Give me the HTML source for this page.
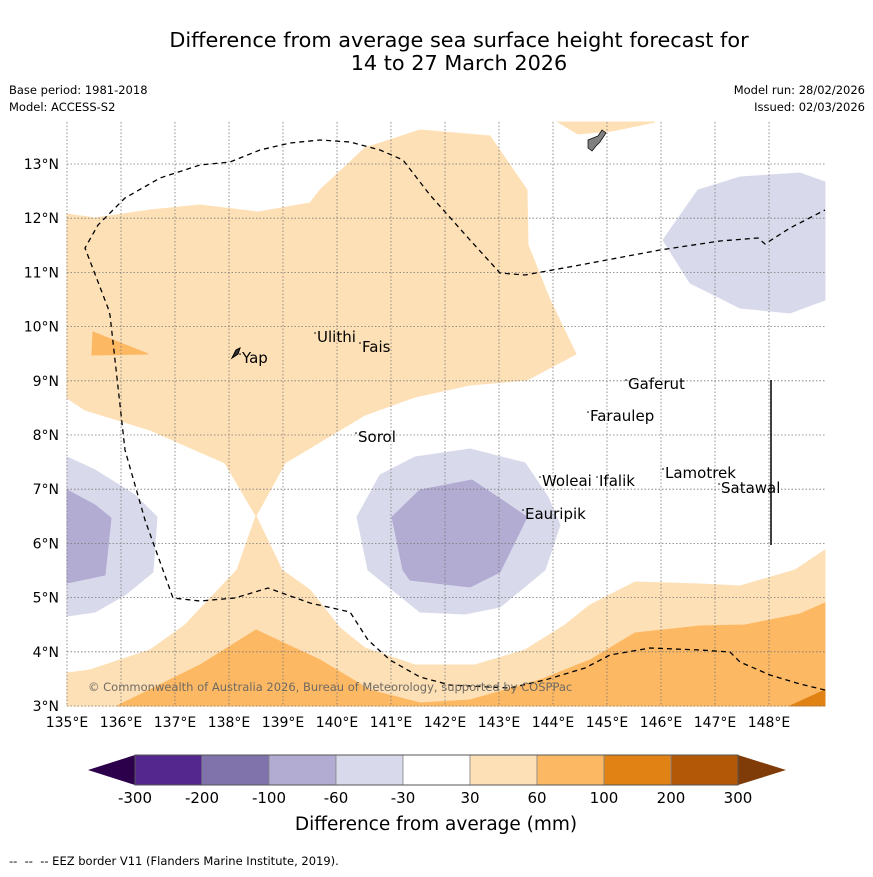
<!DOCTYPE html>
<html><head><meta charset="utf-8"><style>
body{margin:0;background:#fff;font-family:"DejaVu Sans","Liberation Sans",sans-serif;}
svg text{font-family:"DejaVu Sans","Liberation Sans",sans-serif;}
</style></head><body>
<svg id="c" width="873" height="873" viewBox="0 0 873 873" xmlns="http://www.w3.org/2000/svg">
<text x="459" y="47" font-size="20.8" text-anchor="middle">Difference from average sea surface height forecast for</text>
<text x="459" y="70" font-size="20.8" text-anchor="middle">14 to 27 March 2026</text>
<text x="9" y="94" font-size="11.5">Base period: 1981-2018</text>
<text x="9" y="111" font-size="11.5">Model: ACCESS-S2</text>
<text x="865" y="94" font-size="11.5" text-anchor="end">Model run: 28/02/2026</text>
<text x="865" y="111" font-size="11.5" text-anchor="end">Issued: 02/03/2026</text>
<g id="map"></g>
<g id="cbar"></g>
<text x="436" y="830" font-size="18.5" text-anchor="middle">Difference from average (mm)</text>
<text x="9" y="865" font-size="11.5" xml:space="preserve">--  --  -- EEZ border V11 (Flanders Marine Institute, 2019).</text>
</svg>
<script>
const lonTicks=[135,136,137,138,139,140,141,142,143,144,145,146,147,148];
const latTicks=[3,4,5,6,7,8,9,10,11,12,13];
const cbLevels=["-300","-200","-100","-60","-30","30","60","100","200","300"];
const cbColors=["#54278f","#8073ac","#b2abd2","#d8daeb","#ffffff","#fee0b6","#fdb863","#e08214","#b35806"];
function px(x){return +(135+(x-67)/54).toFixed(3);}
function py(y){return +(3+(706-y)/54.2).toFixed(3);}
function LL(a){const o=[];for(let i=0;i<a.length;i+=2)o.push([px(a[i]),py(a[i+1])]);return o;}
const lightOrangeMain=LL([67,214,95,218,150,210,200,205,258,212,310,203,320,190,365,148,420,130,490,136,527,190,528,245,550,300,576,354,527,380,470,385,415,397,365,415,285,463,256,516,225,463,150,430,85,410,67,398]);
const lightOrangeTop=LL([558,122,655,122,612,131,578,134]);
const lightOrangeBottom=LL([67,673,90,670,150,650,185,625,237,570,256,516,282,570,310,590,340,628,365,648,415,665,475,665,525,650,565,625,590,605,635,582,700,584,740,586,795,570,825,550,825,706,67,706]);
const midOrangeBottom=LL([117,706,200,665,256,630,320,660,370,690,420,703,470,700,540,680,590,660,635,633,700,626,745,625,800,614,825,603,825,706]);
const midOrangeYap=LL([93,332,148,354,92,355]);
const darkOrange=LL([790,706,825,690,825,706]);
const lightPurpleLeft=LL([67,457,95,470,135,495,157,517,153,572,125,595,95,612,67,616]);
const midPurpleLeft=LL([67,490,95,505,111,518,105,575,67,583]);
const lightPurpleCenter=LL([357,517,380,475,415,457,470,449,525,463,548,497,560,525,545,570,500,607,465,614,420,612,368,570]);
const midPurpleCenter=LL([392,517,420,490,472,480,527,517,500,572,470,587,410,580,403,570]);
const lightPurpleRight=LL([663,240,698,190,740,177,800,173,825,182,825,300,790,313,740,308,690,283]);
const eezLine=LL([825,690,800,684,770,675,740,662,730,652,700,650,650,648,610,655,585,668,545,680,510,688,450,685,420,677,390,660,368,640,350,612,310,603,268,588,235,598,200,601,173,598,145,520,125,450,110,315,108,308,85,248,98,225,125,198,160,178,200,165,230,162,260,150,290,143,320,140,350,142,380,150,403,160,430,195,470,240,500,273,525,275,580,265,660,250,720,241,758,238,765,244,790,228,825,210]);
const guam=LL([588,140,598,136,602,130,606,133,600,142,596,146,592,151,588,148]);
const islandNames=["Yap","Ulithi","Fais","Sorol","Gaferut","Faraulep","Woleai","Ifalik","Eauripik","Lamotrek","Satawal"];
const islandPos=LL([242,363,317,342,362,352,358,442,628,389,590,421,542,486,599,486,525,519,665,478,721,493]);
const X0=67,DX=54,Y0=706,DY=54.2;
function X(lon){return X0+(lon-135)*DX;}
function Y(lat){return Y0-(lat-3)*DY;}
const NS="http://www.w3.org/2000/svg";
function mk(t,a,p){const e=document.createElementNS(NS,t);for(const k in a)e.setAttribute(k,a[k]);p.appendChild(e);return e;}
const map=document.getElementById('map');
function poly(pts,fill,name){const e=mk('polygon',{points:pts.map(p=>X(p[0]).toFixed(1)+','+Y(p[1]).toFixed(1)).join(' '),fill:fill,stroke:fill,'stroke-width':1},map);

}
poly(lightOrangeMain,'#fee0b6','contour-30-60-main');
poly(lightOrangeTop,'#fee0b6','contour-30-60-north');
poly(lightOrangeBottom,'#fee0b6','contour-30-60-south');
poly(midOrangeBottom,'#fdb863','contour-60-100-south');
poly(midOrangeYap,'#fdb863','contour-60-100-yap');
poly(darkOrange,'#e08214','contour-100-200');
poly(lightPurpleLeft,'#d8daeb','contour-neg30-60-west');
poly(midPurpleLeft,'#b2abd2','contour-neg60-100-west');
poly(lightPurpleCenter,'#d8daeb','contour-neg30-60-center');
poly(midPurpleCenter,'#b2abd2','contour-neg60-100-center');
poly(lightPurpleRight,'#d8daeb','contour-neg30-60-east');
lonTicks.forEach(l=>{const g=mk('line',{x1:X(l),x2:X(l),y1:122,y2:706,stroke:'#777','stroke-width':0.8,'stroke-dasharray':'1.5,2'},map);


const t=mk('text',{x:X(l),y:727,'font-size':14,'text-anchor':'middle'},map);t.textContent=l+'°E';

});
latTicks.forEach(l=>{const g=mk('line',{x1:67,x2:825,y1:Y(l),y2:Y(l),stroke:'#777','stroke-width':0.8,'stroke-dasharray':'1.5,2'},map);


const t=mk('text',{x:59,y:Y(l)+5,'font-size':14,'text-anchor':'end'},map);t.textContent=l+'°N';

});
const eez=mk('polyline',{points:eezLine.map(p=>X(p[0]).toFixed(1)+','+Y(p[1]).toFixed(1)).join(' '),fill:'none',stroke:'#000','stroke-width':1.3,'stroke-dasharray':'5,4'},map);


const gm=mk('polygon',{points:guam.map(p=>X(p[0]).toFixed(1)+','+Y(p[1]).toFixed(1)).join(' '),fill:'#808080',stroke:'#000','stroke-width':0.7},map);


const vl=mk('line',{x1:771,x2:771,y1:380,y2:545,stroke:'#000','stroke-width':1.5},map);


const yp=mk('polygon',{points:'232,358 236,350 240,348 238,354',fill:'#333',stroke:'#000','stroke-width':1},map);


islandNames.forEach((n,i)=>{const s=islandPos[i];
const d=mk('circle',{cx:X(s[0])-2,cy:Y(s[1])-9,r:0.8,fill:'#000'},map);


const t=mk('text',{x:X(s[0]),y:Y(s[1]),'font-size':15},map);t.textContent=n;

});
const cp=mk('text',{x:88,y:691,'font-size':11.5,fill:'#6e6a63'},map);cp.textContent='© Commonwealth of Australia 2026, Bureau of Meteorology, supported by COSPPac';


const cb=document.getElementById('cbar');
const cx0=135,cw=67,cy=755,ch=30;
const lt=mk('polygon',{points:`${cx0},${cy} ${cx0},${cy+ch} 88,${cy+ch/2}`,fill:'#2d004b'},cb);


const rt=mk('polygon',{points:`${cx0+cw*cbColors.length},${cy} ${cx0+cw*cbColors.length},${cy+ch} 786,${cy+ch/2}`,fill:'#7f3b08'},cb);


cbColors.forEach((c,i)=>{const r=mk('rect',{x:cx0+i*cw,y:cy,width:cw,height:ch,fill:c,stroke:'#888','stroke-width':0.8},cb);

});
mk('rect',{x:cx0,y:cy,width:cw*cbColors.length,height:ch,fill:'none',stroke:'#555','stroke-width':1},cb);
cbLevels.forEach((l,i)=>{const t=mk('text',{x:cx0+i*cw,y:803,'font-size':15,'text-anchor':'middle'},cb);t.textContent=l;

});
</script>
</body></html>
